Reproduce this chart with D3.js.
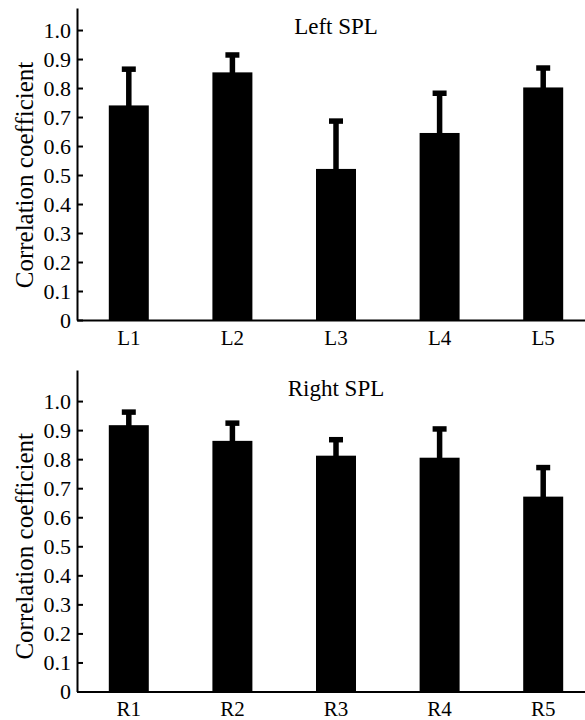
<!DOCTYPE html>
<html>
<head>
<meta charset="utf-8">
<script src="https://cdn.jsdelivr.net/npm/d3@7"></script>
<style>
  body { margin: 0; background: #fff; }
</style>
</head>
<body>
<svg id="chart" width="585" height="720"></svg>
<script>
// Correlation coefficients per SPL subregion (bar height + upper error bar end)
var leftRegions = ['L1', 'L2', 'L3', 'L4', 'L5']
var leftValues = [0.740, 0.854, 0.521, 0.645, 0.802]
var leftUpper = [0.865, 0.914, 0.686, 0.782, 0.869]

var rightRegions = ['R1', 'R2', 'R3', 'R4', 'R5']
var rightValues = [0.917, 0.863, 0.812, 0.805, 0.671]
var rightUpper = [0.962, 0.924, 0.867, 0.904, 0.771]

var yTicks = [0, 0.1, 0.2, 0.3, 0.4, 0.5, 0.6, 0.7, 0.8, 0.9, 1.0]

var serif = '"Liberation Serif", "Times New Roman", "DejaVu Serif", serif'
var svg = d3.select('#chart')

function drawPanel(title, regions, values, upper, box) {
	var g = svg.append('g')

	// scales
	var x = d3.scaleBand().domain(regions)
		.range([box.left, box.right])
		.paddingInner(0.614).paddingOuter(0.307)
	var y = d3.scaleLinear().domain([0, box.yMax]).range([box.bottom, box.top])

	// bars
	g.selectAll('rect.bar').data(values)
		.enter().append('rect').attr('class', 'bar')
		.attr('x', function(d, i) { return x(regions[i]) })
		.attr('width', x.bandwidth())
		.attr('y', function(d) { return y(d) })
		.attr('height', function(d) { return y(0) - y(d) })
		.attr('fill', '#000')

	// error bars (upper half only)
	var cx = function(i) { return x(regions[i]) + x.bandwidth() / 2 }
	g.selectAll('line.stem').data(upper)
		.enter().append('line').attr('class', 'stem')
		.attr('x1', function(d, i) { return cx(i) })
		.attr('x2', function(d, i) { return cx(i) })
		.attr('y1', function(d, i) { return y(values[i]) + 1 })
		.attr('y2', function(d) { return y(d) })
		.attr('stroke', '#000').attr('stroke-width', 5.5)
	g.selectAll('line.cap').data(upper)
		.enter().append('line').attr('class', 'cap')
		.attr('x1', function(d, i) { return cx(i) - 7 })
		.attr('x2', function(d, i) { return cx(i) + 7 })
		.attr('y1', function(d) { return y(d) })
		.attr('y2', function(d) { return y(d) })
		.attr('stroke', '#000').attr('stroke-width', 5.5)

	// axes
	var yAxis = g.append('g')
		.attr('transform', 'translate(' + box.left + ',0)')
		.call(d3.axisLeft(y).tickValues(yTicks)
			.tickSizeInner(-6).tickSizeOuter(0).tickPadding(6)
			.tickFormat(function(d) { return d === 0 ? '0' : d3.format('.1f')(d) }))
	yAxis.attr('font-family', null).attr('font-size', null)
	yAxis.selectAll('text').style('font-family', serif).style('font-size', '22px').attr('fill', '#000')
	yAxis.selectAll('path, line').attr('stroke', '#000').attr('stroke-width', 2)

	var xAxis = g.append('g')
		.attr('transform', 'translate(0,' + box.bottom + ')')
		.call(d3.axisBottom(x).tickSize(0).tickPadding(10))
	xAxis.attr('font-family', null).attr('font-size', null)
	xAxis.selectAll('text').style('font-family', serif).style('font-size', '21px').attr('fill', '#000')
	xAxis.select('path').attr('stroke', '#000').attr('stroke-width', 2)

	// title and axis label
	g.append('text').text(title)
		.attr('x', 336).attr('y', box.top + 26)
		.attr('text-anchor', 'middle')
		.style('font-family', serif).style('font-size', '23px')

	g.append('text').text('Correlation coefficient')
		.attr('transform', 'translate(33,' + ((y(0) + y(1)) / 2) + ') rotate(-90)')
		.attr('text-anchor', 'middle')
		.style('font-family', serif).style('font-size', '25px')
}

drawPanel('Left SPL', leftRegions, leftValues, leftUpper,
	{left: 77, right: 595, top: 8, bottom: 320, yMax: 1.076})
drawPanel('Right SPL', rightRegions, rightValues, rightUpper,
	{left: 77, right: 595, top: 370, bottom: 691.5, yMax: 1.107})
</script>
</body>
</html>
